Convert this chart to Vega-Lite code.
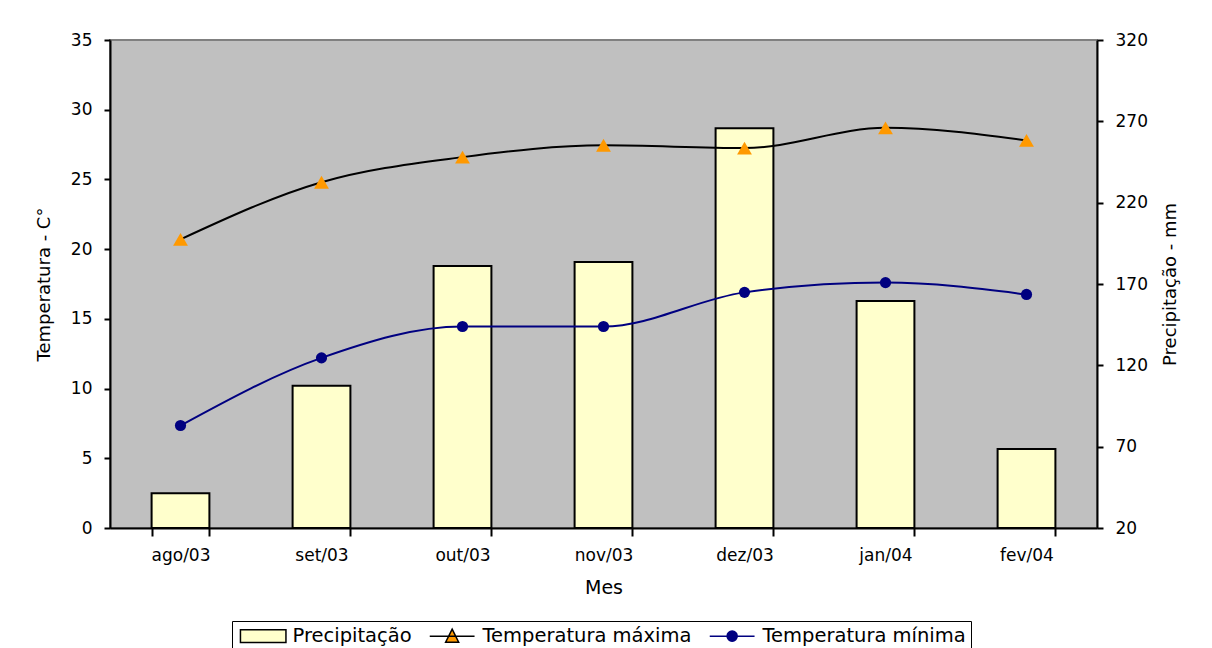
{
  "$schema": "https://vega.github.io/schema/vega-lite/v6.json",
  "width": 987,
  "height": 488,
  "autosize": {"type": "none"},
  "padding": {"left": 110, "top": 40, "right": 115, "bottom": 120},
  "background": "white",
  "config": {
    "view": {"fill": "#C0C0C0", "stroke": "#808080", "strokeWidth": 2},
    "axis": {
      "labelFont": "DejaVu Sans", "labelFontSize": 17, "labelColor": "black",
      "titleFont": "DejaVu Sans", "titleFontSize": 18, "titleFontWeight": "normal", "titleColor": "black",
      "domainColor": "black", "domainWidth": 2, "tickColor": "black", "tickWidth": 2, "grid": false
    },
    "legend": {"labelFont": "DejaVu Sans", "labelFontSize": 19.5, "labelColor": "black", "labelLimit": 0}
  },
  "data": {
    "values": [
      {"mes": "ago/03", "precip": 41.3, "tmax": 20.7, "tmin": 7.35},
      {"mes": "set/03", "precip": 107.5, "tmax": 24.8, "tmin": 12.2},
      {"mes": "out/03", "precip": 181, "tmax": 26.6, "tmin": 14.45},
      {"mes": "nov/03", "precip": 183.5, "tmax": 27.45, "tmin": 14.45},
      {"mes": "dez/03", "precip": 265.8, "tmax": 27.25, "tmin": 16.9},
      {"mes": "jan/04", "precip": 159.5, "tmax": 28.7, "tmin": 17.6},
      {"mes": "fev/04", "precip": 68.6, "tmax": 27.8, "tmin": 16.75}
    ]
  },
  "encoding": {
    "x": {
      "field": "mes", "type": "ordinal", "sort": null,
      "scale": {"paddingInner": 0.59, "paddingOuter": 0.295},
      "axis": {"title": "Mes", "labelAngle": 0, "tickBand": "extent", "tickSize": 8, "labelPadding": 11, "titlePadding": 15, "titleFontSize": 19}
    }
  },
  "layer": [
    {
      "mark": {"type": "bar", "fill": "#FFFFCC", "stroke": "black", "strokeWidth": 2},
      "encoding": {
        "y": {
          "field": "precip", "type": "quantitative",
          "scale": {"domain": [20, 320], "zero": false, "nice": false},
          "axis": {"orient": "right", "title": "Precipitação - mm", "titleAngle": 270, "titleBaseline": "top", "values": [20, 70, 120, 170, 220, 270, 320], "tickSize": 6, "labelPadding": 12, "titlePadding": 14}
        },
        "y2": {"datum": 20}
      }
    },
    {
      "layer": [
        {
          "mark": {"type": "line", "interpolate": "monotone", "stroke": "black", "strokeWidth": 2},
          "encoding": {
            "y": {
              "field": "tmax", "type": "quantitative",
              "scale": {"domain": [0, 35], "nice": false},
              "axis": {"orient": "left", "title": "Temperatura - C°", "values": [0, 5, 10, 15, 20, 25, 30, 35], "tickSize": 6, "labelPadding": 12, "titlePadding": 17}
            }
          }
        },
        {
          "mark": {"type": "line", "interpolate": "monotone", "stroke": "#000080", "strokeWidth": 2},
          "encoding": {"y": {"field": "tmin", "type": "quantitative", "title": "Temperatura - C°"}}
        },
        {
          "mark": {"type": "point", "shape": "triangle-up", "filled": true, "color": "#FF9900", "opacity": 1, "size": 220},
          "encoding": {"y": {"field": "tmax", "type": "quantitative", "title": "Temperatura - C°"}}
        },
        {
          "mark": {"type": "point", "shape": "circle", "filled": true, "color": "#000080", "opacity": 1, "size": 125},
          "encoding": {"y": {"field": "tmin", "type": "quantitative", "title": "Temperatura - C°"}}
        },
        {
          "transform": [{"filter": "false"}],
          "mark": {"type": "point", "filled": true, "opacity": 1, "strokeWidth": 1.5},
          "encoding": {
            "fill": {
              "field": "serie", "type": "nominal",
              "scale": {"domain": ["Precipitação", "Temperatura máxima", "Temperatura mínima"], "range": ["#FFFFCC", "#FF9900", "#000080"]},
              "legend": {"orient": "none", "legendX": 122, "legendY": 581, "direction": "horizontal", "title": null, "strokeColor": "black", "fillColor": "white", "padding": 5, "symbolSize": 196, "symbolStrokeWidth": 1.5, "symbolOpacity": 1, "labelOffset": 36, "columnPadding": 14, "labelLimit": 0}
            },
            "stroke": {
              "field": "serie", "type": "nominal",
              "scale": {"domain": ["Precipitação", "Temperatura máxima", "Temperatura mínima"], "range": ["black", "black", "#000080"]}
            },
            "shape": {
              "field": "serie", "type": "nominal",
              "scale": {
                "domain": ["Precipitação", "Temperatura máxima", "Temperatura mínima"],
                "range": [
                  "M-0.9,-0.9H5.6V0.9H-0.9Z",
                  "M-1,0H5.4M2.2,-1L3.13,0.86H1.27Z",
                  "M-1,0H5.4M2.92,0A0.72,0.72 0 1,1 1.48,0A0.72,0.72 0 1,1 2.92,0Z"
                ]
              }
            }
          }
        }
      ]
    }
  ],
  "resolve": {"scale": {"y": "independent"}}
}
